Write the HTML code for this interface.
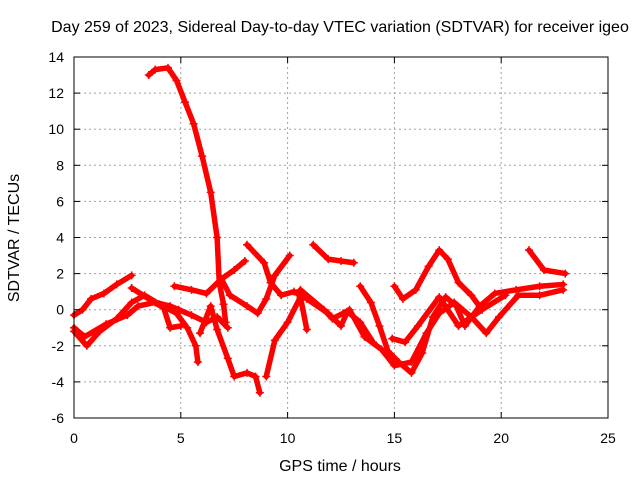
<!DOCTYPE html>
<html><head><meta charset="utf-8"><style>
body{margin:0;background:#fff}
svg text{font-family:"Liberation Sans",sans-serif;font-size:14px;fill:#000}
svg text.big{font-size:16px}
</style></head><body>
<svg width="640" height="480">
<rect width="640" height="480" fill="#fff"/>
<text class="big" x="340" y="32" text-anchor="middle">Day 259 of 2023, Sidereal Day-to-day VTEC variation (SDTVAR) for receiver igeo</text>
<g id="grid"></g>
<g id="series"></g>
<rect x="74" y="57" width="534" height="361" fill="none" stroke="#000" stroke-width="1"/>
<g id="ticks"></g>
<text class="big" x="340" y="471" text-anchor="middle">GPS time / hours</text>
<text class="big" transform="translate(19,238) rotate(-90)" text-anchor="middle">SDTVAR / TECUs</text>
</svg>
<script>
const xTicks=[0,5,10,15,20,25];
const yTicks=[-6,-4,-2,0,2,4,6,8,10,12,14];
const trackA=[[0,-0.3],[0.4,0.0],[0.8,0.6],[1.4,0.9],[2.0,1.4],[2.7,1.9]];
const trackB=[[0,-1.2],[0.6,-2.0],[1.2,-1.2],[2.0,-0.5],[2.7,0.4],[3.3,0.8],[4.0,0.3],[4.8,-0.2],[5.3,-1.0],[5.7,-2.0],[5.8,-2.9]];
const trackC=[[0,-1.0],[0.5,-1.5],[1.5,-0.8],[2.5,-0.3],[3.0,0.2],[3.8,0.4],[4.5,0.2],[4.9,0.0],[5.5,-0.3],[6.2,-0.7],[6.7,-0.4],[7.2,-1.0]];
const trackC2=[[2.7,1.2],[3.5,0.6],[4.2,0.1],[4.5,-1.0],[5.0,-0.9]];
const trackD=[[3.5,13.0],[3.8,13.3],[4.4,13.4],[4.8,12.7],[5.2,11.5],[5.6,10.3],[6.0,8.5],[6.4,6.5],[6.7,4.0],[6.8,1.5],[7.0,0.3],[7.1,-0.7]];
const trackE=[[4.7,1.3],[5.5,1.1],[6.2,0.9],[6.9,1.7],[7.5,2.2],[8.0,2.7]];
const trackE2=[[6.9,1.7],[7.3,0.8],[8.1,0.2],[8.6,-0.2],[9.0,0.6],[9.4,1.9],[10.1,3.0]];
const trackF=[[8.1,3.6],[8.9,2.6],[9.2,1.5],[9.7,0.8],[10.3,1.0],[10.9,0.6],[11.9,-0.2],[12.5,-0.9],[12.8,-0.1],[13.4,-0.7],[14.0,-1.8]];
const trackG=[[5.9,-1.3],[6.4,0.2],[6.7,-1.1],[7.2,-2.7],[7.5,-3.7],[8.1,-3.5],[8.5,-3.7],[8.7,-4.6]];
const trackH=[[9.0,-3.7],[9.4,-1.7],[10.0,-0.7],[10.6,0.7],[10.9,-1.1]];
const trackI=[[11.2,3.6],[11.9,2.8],[12.5,2.7],[13.1,2.6]];
const trackJ=[[10.6,1.1],[11.7,0.0],[12.1,-0.5],[12.6,-0.2],[12.9,0],[13.6,-1.5],[14.4,-2.2],[15.0,-3.1],[15.8,-2.9],[16.5,-1.3],[17.1,-0.2],[17.8,0.4],[18.6,-0.4],[19.3,-1.3],[19.9,-0.4],[20.8,0.8],[21.8,0.8],[22.9,1.1]];
const trackJ2=[[13.4,1.3],[13.9,0.4],[14.3,-0.9],[14.7,-2.3],[15.2,-2.9],[15.8,-3.5],[16.3,-2.4],[16.8,-0.4],[17.4,0.7],[17.9,0.2],[18.3,-0.9],[19.0,0.2],[19.7,0.9],[20.7,1.1],[21.8,1.3],[22.9,1.4]];
const trackK=[[15.0,1.3],[15.4,0.6],[16.0,1.1],[16.6,2.4],[17.1,3.3],[17.5,2.8],[18.0,1.5],[18.6,0.8],[19.1,0.0]];
const trackL=[[21.3,3.3],[22.0,2.2],[23.0,2.0]];
const trackM=[[14.9,-1.6],[15.5,-1.8],[16.1,-0.9],[17.1,0.7],[18.0,-0.9],[19.1,0],[20.2,0.8]];
const tracks=[trackA,trackB,trackC,trackC2,trackD,trackE,trackE2,trackF,trackG,trackH,trackI,trackJ,trackJ2,trackK,trackL,trackM];
const NS='http://www.w3.org/2000/svg';
const X=t=>74+t*534/25, Y=v=>57+(14-v)*361/20;
const grid=document.getElementById('grid'),ticks=document.getElementById('ticks'),ser=document.getElementById('series');
function mk(tag,at,p){const e=document.createElementNS(NS,tag);for(const k in at)e.setAttribute(k,at[k]);p.appendChild(e);return e;}
xTicks.forEach(t=>{const x=X(t);
 if(t>0&&t<25){const g=mk('line',{x1:x,x2:x,y1:57,y2:418,stroke:'#a0a0a0','stroke-dasharray':'2,3'},grid);
 
 }
 mk('line',{x1:x,x2:x,y1:418,y2:412,stroke:'#000'},ticks);mk('line',{x1:x,x2:x,y1:57,y2:63,stroke:'#000'},ticks);
 const tx=mk('text',{x:x,y:443,'text-anchor':'middle'},ticks);tx.textContent=t;
 
 });
yTicks.forEach(v=>{const y=Y(v);
 if(v>-6&&v<14){const g=mk('line',{x1:74,x2:608,y1:y,y2:y,stroke:'#a0a0a0','stroke-dasharray':'2,3'},grid);
 
 }
 mk('line',{x1:74,x2:80,y1:y,y2:y,stroke:'#000'},ticks);mk('line',{x1:608,x2:602,y1:y,y2:y,stroke:'#000'},ticks);
 const tx=mk('text',{x:64,y:y+5,'text-anchor':'end'},ticks);tx.textContent=v;
 
 });
tracks.forEach(tr=>{
 const pl=mk('polyline',{points:tr.map(p=>X(p[0])+','+Y(p[1])).join(' '),fill:'none',stroke:'#ff0000','stroke-width':5.5,'stroke-linejoin':'round','stroke-linecap':'round'},ser);
 
 
 tr.forEach(p=>{const x=X(p[0]),y=Y(p[1]);
  const m=mk('path',{d:`M${x-4},${y}H${x+4}M${x},${y-4}V${y+4}`,stroke:'#ff0000','stroke-width':1.5},ser);
  
  });
});
</script>
</body></html>
